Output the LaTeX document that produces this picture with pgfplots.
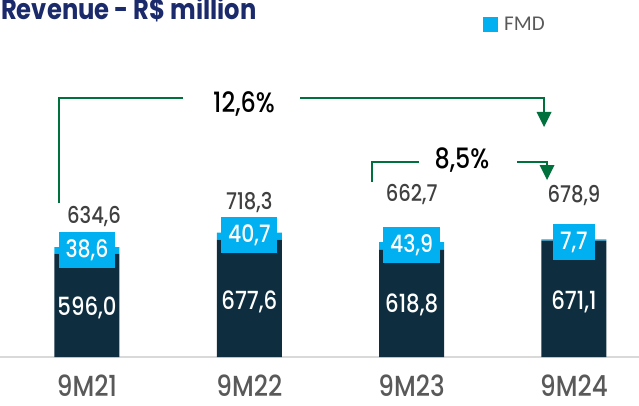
\documentclass[border=0pt]{standalone}
\usepackage{fontspec}
\setmainfont{Poppins}[FakeStretch=0.85]
\newfontfamily\medfont{Poppins Medium}[FakeStretch=0.85]
\newfontfamily\legfont{Carlito}
\usepackage{pgfplots}
\pgfplotsset{compat=1.18}

\definecolor{navy}{HTML}{0E2E40}
\definecolor{fmd}{HTML}{00B0F0}
\definecolor{arrowgreen}{HTML}{00703C}
\definecolor{titlenavy}{HTML}{1B2A6B}
\definecolor{valgray}{HTML}{404040}
\definecolor{catgray}{HTML}{595959}
\definecolor{basegray}{HTML}{D9D9D9}

\newcommand{\fs}[1]{\medfont\fontsize{#1}{#1}\selectfont}

\begin{document}
\begin{tikzpicture}[x=1pt, y=1pt]
\useasboundingbox (0,0) rectangle (639,405);
\begin{axis}[
    at={(0,0)}, anchor=south west,
    scale only axis, width=639pt, height=405pt,
    xmin=-0.536, xmax=3.401, ymin=-277, ymax=2060,
    ybar stacked, bar width=65pt,
    axis x line=middle, axis y line=none,
    x axis line style={draw=basegray, line width=1.5pt, -},
    xtick={0,1,2,3},
    xticklabels={9M21,9M22,9M23,9M24},
    major tick length=0pt,
    x tick label style={font=\fs{29}, text=catgray, anchor=base, yshift=-39pt},
    ytick=\empty,
    clip=false,
    legend style={at={(0.7559,0.9395)}, anchor=west, draw=none, fill=none,
        inner sep=0pt, font=\legfont\fontsize{21}{21}\selectfont, text=catgray,
        /tikz/every odd column/.append style={column sep=4pt}},
    legend image code/.code={\fill[#1] (0pt,-7.5pt) rectangle (15pt,7.5pt);},
]
% Produtos (navy) e FMD
\addplot[fill=navy, draw=none, forget plot] coordinates {(0,596.0) (1,677.6) (2,618.8) (3,671.1)};
\addplot[fill=fmd, draw=none] coordinates {(0,38.6) (1,40.7) (2,43.9) (3,7.7)};
\addlegendentry{FMD}

% posicoes dos rotulos (desenhados depois das barras)
\coordinate (in0) at (axis cs:0,284);
\coordinate (in1) at (axis cs:1,318);
\coordinate (in2) at (axis cs:2,299);
\coordinate (in3) at (axis cs:3,318);
\coordinate (bx0) at (axis cs:0,617.6);
\coordinate (bx1) at (axis cs:1,701.3);
\coordinate (bx2) at (axis cs:2,645.7);
\coordinate (bx3) at (axis cs:3,661.9);
\coordinate (tt0) at (axis cs:0.043,808);
\coordinate (tt1) at (axis cs:1,894);
\coordinate (tt2) at (axis cs:2,935);
\coordinate (tt3) at (axis cs:3,929);
\end{axis}

% rotulos dentro das barras
\node[font=\fs{25}, text=white] at (in0) {596,0};
\node[font=\fs{25}, text=white] at (in1) {677,6};
\node[font=\fs{25}, text=white] at (in2) {618,8};
\node[font=\fs{25}, text=white] at (in3) {671,1};

% caixas FMD
\tikzset{fmdbox/.style={fill=fmd, text=white, font=\fs{24}, minimum height=36pt, inner xsep=7pt}}
\node[fmdbox] at (bx0) {38,6};
\node[fmdbox] at (bx1) {40,7};
\node[fmdbox] at (bx2) {43,9};
\node[fmdbox] at (bx3) {7,7};

% totais
\node[font=\fs{23}, text=valgray] at (tt0) {634,6};
\node[font=\fs{23}, text=valgray] at (tt1) {718,3};
\node[font=\fs{23}, text=valgray] at (tt2) {662,7};
\node[font=\fs{23}, text=valgray] at (tt3) {678,9};

% titulo
\node[anchor=base west, inner sep=0pt, font=\bfseries\fontsize{28.5}{28.5}\selectfont, text=titlenavy] at (1,385) {Revenue - R\$ million};

% CAGR 12,6%
\draw[arrowgreen, line width=2pt] (58.5,202) |- (183,307);
\draw[arrowgreen, line width=2pt] (300,307) -| (544,292);
\fill[arrowgreen] (536.5,293) -- (551.5,293) -- (544,278) -- cycle;
\node[font=\fs{28}, text=black] at (244,301) {12,6\%};

% 8,5%
\draw[arrowgreen, line width=2pt] (372,223) |- (419,243);
\draw[arrowgreen, line width=2pt] (517,243) -| (547,239);
\fill[arrowgreen] (539.5,240) -- (554.5,240) -- (547,225) -- cycle;
\node[font=\fs{28}, text=black] at (462,245) {8,5\%};
\end{tikzpicture}
\end{document}
